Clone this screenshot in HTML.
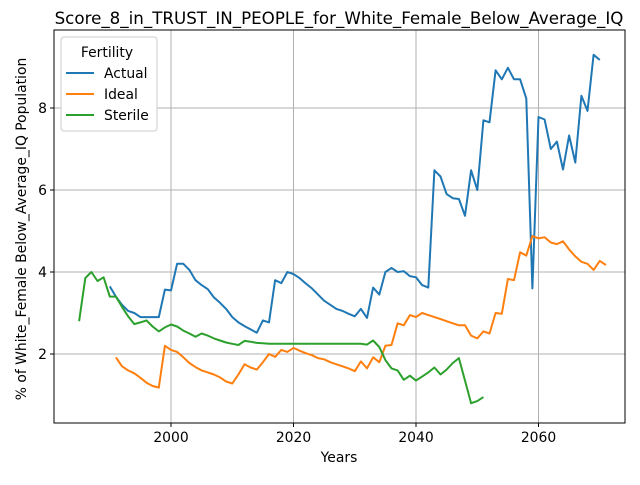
<!DOCTYPE html>
<html><head><meta charset="utf-8"><style>
body{margin:0;background:#fff;font-family:"Liberation Sans","DejaVu Sans",sans-serif}
svg text{font-family:"DejaVu Sans","Liberation Sans",sans-serif}
</style></head><body>
<svg id="chart" width="640" height="480" xmlns="http://www.w3.org/2000/svg"></svg>
<script>
const xTicks=[2000,2020,2040,2060];
const yTicks=[2,4,6,8];
const actualStart=1990;
const actual=[3.65,3.4,3.2,3.05,3.0,2.9,2.9,2.9,2.9,3.57,3.55,4.2,4.2,4.05,3.8,3.68,3.58,3.38,3.25,3.1,2.9,2.77,2.68,2.6,2.52,2.82,2.77,3.8,3.73,4.0,3.95,3.85,3.72,3.6,3.45,3.3,3.2,3.1,3.05,2.98,2.92,3.1,2.88,3.62,3.45,4.0,4.1,4.0,4.02,3.9,3.87,3.68,3.62,6.48,6.33,5.9,5.8,5.78,5.37,6.48,6.0,7.7,7.65,8.92,8.7,8.98,8.7,8.7,8.23,3.6,7.78,7.72,7.0,7.18,6.5,7.33,6.67,8.3,7.93,9.3,9.17];
const idealStart=1991;
const ideal=[1.92,1.7,1.6,1.53,1.42,1.3,1.22,1.18,2.2,2.1,2.05,1.92,1.78,1.68,1.6,1.55,1.5,1.43,1.33,1.28,1.5,1.75,1.67,1.62,1.8,2.0,1.93,2.1,2.05,2.15,2.08,2.02,1.97,1.9,1.87,1.8,1.75,1.7,1.65,1.58,1.82,1.65,1.92,1.8,2.2,2.22,2.75,2.7,2.95,2.9,3.0,2.95,2.9,2.85,2.8,2.75,2.7,2.7,2.45,2.38,2.55,2.5,3.0,2.98,3.83,3.8,4.48,4.4,4.88,4.82,4.85,4.72,4.68,4.75,4.55,4.38,4.25,4.2,4.05,4.27,4.17];
const sterileStart=1985;
const sterile=[2.8,3.85,4.0,3.78,3.87,3.4,3.4,3.15,2.92,2.73,2.77,2.82,2.67,2.55,2.65,2.72,2.67,2.57,2.5,2.42,2.5,2.45,2.38,2.33,2.28,2.25,2.22,2.32,2.3,2.27,2.26,2.25,2.25,2.25,2.25,2.25,2.25,2.25,2.25,2.25,2.25,2.25,2.25,2.25,2.25,2.25,2.25,2.23,2.33,2.17,1.85,1.65,1.6,1.37,1.47,1.35,1.45,1.55,1.67,1.5,1.62,1.78,1.9,1.35,0.8,0.85,0.95];
const NS="http://www.w3.org/2000/svg";
const svg=document.getElementById('chart');
const L=54,R=625,T=30,B=423;
const X=v=>171+(v-2000)*6.125;
const Y=v=>354-(v-2)*41;
function el(t,a,txt){const e=document.createElementNS(NS,t);for(const k in a)e.setAttribute(k,a[k]);if(txt!==undefined)e.textContent=txt;svg.appendChild(e);return e;}
xTicks.forEach(t=>{
 const g=el('line',{x1:X(t),x2:X(t),y1:T,y2:B,stroke:'#b0b0b0','stroke-width':1});
 
 
 el('line',{x1:X(t),x2:X(t),y1:B,y2:B+4,stroke:'#000'});
 const tx=el('text',{x:X(t),y:B+19,'text-anchor':'middle','font-size':13.9},t);
 
 
});
yTicks.forEach(t=>{
 const g=el('line',{x1:L,x2:R,y1:Y(t),y2:Y(t),stroke:'#b0b0b0','stroke-width':1});
 
 
 el('line',{x1:L-4,x2:L,y1:Y(t),y2:Y(t),stroke:'#000'});
 const tx=el('text',{x:L-7,y:Y(t)+5,'text-anchor':'end','font-size':13.9},t);
 
 
});
function series(arr,start,color,name){
 const pts=arr.map((v,i)=>X(start+i).toFixed(1)+','+Y(v).toFixed(1)).join(' ');
 const p=el('polyline',{points:pts,fill:'none',stroke:color,'stroke-width':2,'stroke-linejoin':'round'});
 
 
}
series(actual,actualStart,'#1f77b4','actual-line');
series(ideal,idealStart,'#ff7f0e','ideal-line');
series(sterile,sterileStart,'#2ca02c','sterile-line');
const fr=el('rect',{x:L,y:T,width:R-L,height:B-T,fill:'none',stroke:'#000','stroke-width':1});


const ti=el('text',{x:339,y:24,'text-anchor':'middle','font-size':16.7},'Score_8_in_TRUST_IN_PEOPLE_for_White_Female_Below_Average_IQ');


const xl=el('text',{x:339,y:462,'text-anchor':'middle','font-size':13.9},'Years');


const yl=el('text',{x:26,y:229,'text-anchor':'middle','font-size':13.9,transform:'rotate(-90 26 229)'},'% of White_Female Below_Average_IQ Population');


const lg=el('rect',{x:61,y:37,width:96,height:94,fill:'#fff',stroke:'#ccc',rx:3});


const lt=el('text',{x:107,y:57,'text-anchor':'middle','font-size':13.9},'Fertility');


[['Actual','#1f77b4'],['Ideal','#ff7f0e'],['Sterile','#2ca02c']].forEach((d,i)=>{
 const y=78+i*21;
 el('line',{x1:66,x2:94,y1:y-5,y2:y-5,stroke:d[1],'stroke-width':2});
 const t=el('text',{x:104,y:y,'font-size':13.9},d[0]);
 
 
});
</script>
</body></html>
